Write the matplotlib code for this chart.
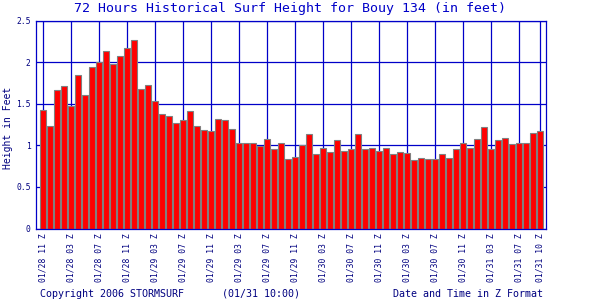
import numpy as np
import matplotlib
matplotlib.use("Agg")
import matplotlib.pyplot as plt

# surf height (feet), one bar per hour, 72 hours
heights = [1.43, 1.23, 1.67, 1.71, 1.47, 1.84, 1.61, 1.94, 2.00, 2.13,
           1.98, 2.07, 2.17, 2.26, 1.68, 1.73, 1.53, 1.38, 1.35, 1.27,
           1.31, 1.41, 1.23, 1.18, 1.17, 1.32, 1.31, 1.20, 1.03, 1.03,
           1.03, 0.99, 1.08, 0.96, 1.03, 0.83, 0.86, 1.00, 1.14, 0.89,
           0.97, 0.92, 1.06, 0.93, 0.95, 1.14, 0.95, 0.97, 0.93, 0.97,
           0.89, 0.92, 0.91, 0.82, 0.85, 0.83, 0.83, 0.90, 0.85, 0.96,
           1.03, 0.97, 1.08, 1.22, 0.96, 1.06, 1.09, 1.01, 1.03, 1.03,
           1.15, 1.17]

tick_pos = [0, 4, 8, 12, 16, 20, 24, 28, 32, 36, 40, 44, 48, 52, 56, 60, 64, 68, 71]
tick_labels = ["01/28 11 Z", "01/28 03 Z", "01/28 07 Z", "01/28 11 Z",
               "01/29 03 Z", "01/29 07 Z", "01/29 11 Z", "01/29 03 Z",
               "01/29 07 Z", "01/29 11 Z", "01/30 03 Z", "01/30 07 Z",
               "01/30 11 Z", "01/30 03 Z", "01/30 07 Z", "01/30 11 Z",
               "01/31 03 Z", "01/31 07 Z", "01/31 10 Z"]
y_ticks = [0, 0.5, 1, 1.5, 2, 2.5]
y_tick_labels = ["0", "0.5", "1", "1.5", "2", "2.5"]

navy = "#000080"
blue = "#0000C8"
mono = "DejaVu Sans Mono"

fig = plt.figure(figsize=(6, 3), dpi=100)
ax = fig.add_axes([36/600, 1-228.5/300, (545.5-36)/600, (228.5-20.5)/300])

x = np.arange(len(heights))
ax.bar(x, heights, width=0.88, color="#FF0000", edgecolor="#808080",
       linewidth=0.8, zorder=2)

ax.set_xlim(-1.04, 71.74)
ax.set_ylim(0, 2.5)
ax.set_xticks(tick_pos)
ax.set_xticklabels(tick_labels, rotation=90, family=mono, fontsize=5.8, color=navy)
ax.set_yticks(y_ticks)
ax.set_yticklabels(y_tick_labels, family=mono, fontsize=5.8, color=navy)
ax.tick_params(axis="x", length=0, pad=3.5)
ax.tick_params(axis="y", length=0, pad=3.8)
ax.grid(True, color=blue, linewidth=0.9, zorder=0)
ax.set_axisbelow(True)
for s in ax.spines.values():
    s.set_color(blue)
    s.set_linewidth(0.9)

fig.text(290/600, 1-8.5/300, "72 Hours Historical Surf Height for Bouy 134 (in feet)",
         family=mono, fontsize=9.5, color=blue, ha="center", va="center")
fig.text(8/600, 1-128/300, "Height in Feet", family=mono, fontsize=7,
         color=navy, rotation=90, ha="center", va="center")
fig.text(40/600, 1-294/300, "Copyright 2006 STORMSURF", family=mono, fontsize=7.2,
         color=navy, ha="left", va="center")
fig.text(222/600, 1-294/300, "(01/31 10:00)", family=mono, fontsize=7.2,
         color=navy, ha="left", va="center")
fig.text(543/600, 1-294/300, "Date and Time in Z Format", family=mono, fontsize=7.2,
         color=navy, ha="right", va="center")

fig.savefig("out.png", dpi=100)
